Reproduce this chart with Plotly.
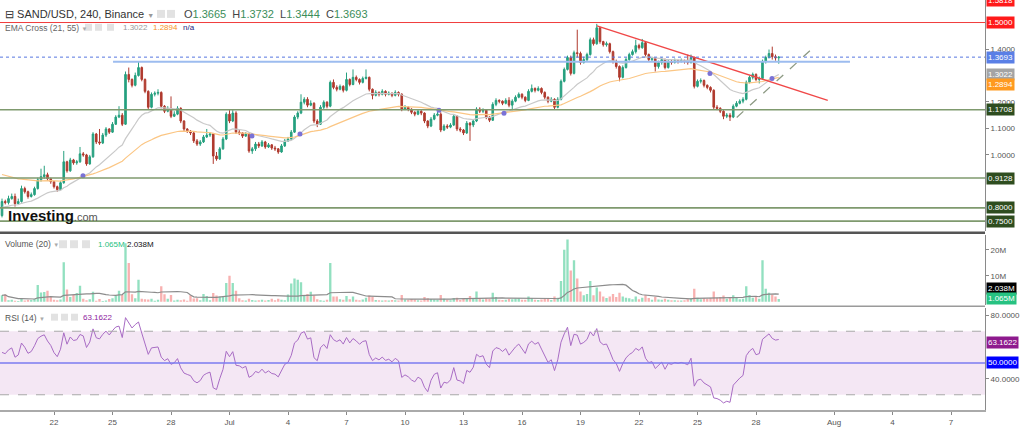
import numpy as np
import pandas as pd
import plotly.graph_objects as go

FONT = "Liberation Sans, Arial, sans-serif"

# ---------------- data ----------------
start_time = "2021-06-19 08:00"
n_candles = 240
first_open = 0.771
close = [
    0.824, 0.820, 0.835, 0.843, 0.816, 0.824, 0.873, 0.861, 0.843, 0.850,
    0.873, 0.906, 0.918, 0.925, 0.910, 0.899, 0.880, 0.869, 0.895, 0.974,
    0.940, 0.981, 0.970, 0.974, 1.004, 1.000, 0.966, 0.993, 1.079, 1.049,
    1.045, 1.075, 1.098, 1.086, 1.116, 1.143, 1.150, 1.116, 1.304, 1.285,
    1.263, 1.300, 1.330, 1.285, 1.240, 1.180, 1.229, 1.233, 1.236, 1.184,
    1.165, 1.176, 1.146, 1.154, 1.176, 1.128, 1.098, 1.090, 1.083, 1.053,
    1.041, 1.049, 1.068, 1.075, 1.079, 0.996, 0.985, 1.023, 1.060, 1.154,
    1.128, 1.158, 1.086, 1.083, 1.071, 1.079, 1.015, 1.023, 1.041, 1.034,
    1.049, 1.030, 1.038, 1.026, 1.023, 1.011, 1.034, 1.053, 1.060, 1.086,
    1.143, 1.158, 1.199, 1.210, 1.188, 1.195, 1.128, 1.116, 1.180, 1.199,
    1.184, 1.274, 1.255, 1.248, 1.259, 1.244, 1.285, 1.266, 1.293, 1.285,
    1.274, 1.289, 1.293, 1.248, 1.225, 1.236, 1.229, 1.240, 1.229, 1.233,
    1.225, 1.236, 1.229, 1.173, 1.180, 1.173, 1.161, 1.154, 1.165, 1.158,
    1.128, 1.109, 1.135, 1.150, 1.154, 1.094, 1.109, 1.105, 1.113, 1.146,
    1.098, 1.094, 1.083, 1.120, 1.113, 1.128, 1.173, 1.165, 1.169, 1.143,
    1.131, 1.191, 1.206, 1.203, 1.195, 1.206, 1.188, 1.203, 1.218, 1.229,
    1.218, 1.206, 1.240, 1.251, 1.244, 1.251, 1.236, 1.218, 1.203, 1.210,
    1.180, 1.210, 1.278, 1.323, 1.368, 1.308, 1.386, 1.383, 1.349, 1.360,
    1.379, 1.435, 1.420, 1.480, 1.428, 1.416, 1.420, 1.390, 1.353, 1.334,
    1.293, 1.330, 1.360, 1.379, 1.390, 1.413, 1.405, 1.424, 1.379, 1.360,
    1.364, 1.334, 1.349, 1.360, 1.330, 1.353, 1.349, 1.356, 1.353, 1.356,
    1.353, 1.349, 1.368, 1.259, 1.278, 1.281, 1.263, 1.255, 1.244, 1.180,
    1.176, 1.165, 1.146, 1.150, 1.143, 1.184, 1.195, 1.203, 1.210, 1.274,
    1.293, 1.304, 1.285, 1.289, 1.353, 1.368, 1.383, 1.371, 1.3665, 1.3693,
]
high = [
    0.835, 0.831, 0.846, 0.854, 0.854, 0.835, 0.884, 0.880, 0.865, 0.858,
    0.880, 0.914, 0.948, 0.959, 0.933, 0.914, 0.902, 0.884, 0.902, 1.015,
    0.978, 0.989, 0.985, 0.981, 1.030, 1.011, 1.004, 1.000, 1.086, 1.083,
    1.098, 1.083, 1.105, 1.101, 1.124, 1.150, 1.184, 1.158, 1.315, 1.330,
    1.289, 1.311, 1.352, 1.334, 1.289, 1.244, 1.236, 1.240, 1.248, 1.240,
    1.188, 1.184, 1.221, 1.165, 1.184, 1.180, 1.131, 1.101, 1.094, 1.086,
    1.060, 1.056, 1.075, 1.098, 1.086, 1.083, 1.011, 1.030, 1.068, 1.161,
    1.169, 1.169, 1.165, 1.094, 1.086, 1.086, 1.083, 1.030, 1.049, 1.049,
    1.056, 1.053, 1.045, 1.041, 1.034, 1.026, 1.041, 1.060, 1.068, 1.094,
    1.150, 1.165, 1.229, 1.218, 1.218, 1.206, 1.199, 1.135, 1.188, 1.206,
    1.203, 1.281, 1.285, 1.263, 1.266, 1.263, 1.311, 1.289, 1.323, 1.300,
    1.289, 1.296, 1.323, 1.296, 1.251, 1.244, 1.240, 1.248, 1.244, 1.240,
    1.236, 1.244, 1.240, 1.233, 1.188, 1.184, 1.176, 1.165, 1.173, 1.169,
    1.161, 1.131, 1.143, 1.158, 1.173, 1.161, 1.116, 1.116, 1.120, 1.154,
    1.150, 1.105, 1.098, 1.128, 1.124, 1.135, 1.180, 1.180, 1.176, 1.173,
    1.146, 1.199, 1.214, 1.210, 1.206, 1.214, 1.218, 1.210, 1.225, 1.236,
    1.233, 1.221, 1.248, 1.266, 1.255, 1.259, 1.255, 1.240, 1.221, 1.218,
    1.214, 1.218, 1.285, 1.330, 1.375, 1.375, 1.394, 1.473, 1.390, 1.371,
    1.386, 1.443, 1.443, 1.495, 1.484, 1.431, 1.428, 1.424, 1.394, 1.360,
    1.338, 1.338, 1.368, 1.386, 1.398, 1.435, 1.420, 1.438, 1.428, 1.383,
    1.371, 1.368, 1.356, 1.368, 1.364, 1.360, 1.360, 1.364, 1.360, 1.364,
    1.360, 1.379, 1.379, 1.371, 1.285, 1.289, 1.285, 1.266, 1.259, 1.248,
    1.188, 1.180, 1.169, 1.158, 1.158, 1.191, 1.203, 1.210, 1.218, 1.281,
    1.300, 1.311, 1.308, 1.296, 1.360, 1.375, 1.398, 1.409, 1.379, 1.3732,
]
low = [
    0.764, 0.813, 0.813, 0.831, 0.805, 0.813, 0.820, 0.854, 0.835, 0.839,
    0.846, 0.869, 0.899, 0.910, 0.902, 0.891, 0.873, 0.861, 0.865, 0.891,
    0.933, 0.936, 0.963, 0.963, 0.970, 0.993, 0.959, 0.963, 0.989, 1.041,
    1.038, 1.041, 1.068, 1.079, 1.083, 1.113, 1.139, 1.109, 1.113, 1.274,
    1.255, 1.259, 1.296, 1.278, 1.233, 1.173, 1.176, 1.221, 1.225, 1.176,
    1.158, 1.161, 1.139, 1.143, 1.150, 1.120, 1.090, 1.083, 1.075, 1.045,
    1.034, 1.034, 1.045, 1.064, 1.068, 0.966, 0.978, 0.981, 1.019, 1.056,
    1.120, 1.124, 1.079, 1.075, 1.064, 1.068, 1.008, 1.004, 1.015, 1.026,
    1.030, 1.023, 1.026, 1.019, 1.015, 1.004, 1.008, 1.030, 1.049, 1.056,
    1.083, 1.135, 1.154, 1.191, 1.180, 1.184, 1.120, 1.105, 1.113, 1.173,
    1.176, 1.180, 1.248, 1.240, 1.244, 1.236, 1.240, 1.259, 1.263, 1.278,
    1.266, 1.270, 1.285, 1.240, 1.210, 1.221, 1.221, 1.225, 1.221, 1.225,
    1.218, 1.221, 1.221, 1.165, 1.169, 1.165, 1.154, 1.146, 1.150, 1.150,
    1.120, 1.101, 1.105, 1.131, 1.146, 1.086, 1.090, 1.098, 1.101, 1.109,
    1.090, 1.086, 1.075, 1.079, 1.053, 1.105, 1.124, 1.158, 1.158, 1.135,
    1.124, 1.128, 1.184, 1.195, 1.188, 1.191, 1.180, 1.169, 1.199, 1.214,
    1.210, 1.199, 1.203, 1.236, 1.236, 1.240, 1.229, 1.210, 1.195, 1.199,
    1.173, 1.176, 1.206, 1.274, 1.319, 1.300, 1.304, 1.368, 1.341, 1.345,
    1.353, 1.375, 1.413, 1.416, 1.420, 1.409, 1.409, 1.383, 1.345, 1.326,
    1.278, 1.289, 1.326, 1.356, 1.375, 1.383, 1.398, 1.401, 1.371, 1.353,
    1.353, 1.315, 1.326, 1.341, 1.323, 1.326, 1.341, 1.345, 1.345, 1.349,
    1.345, 1.341, 1.345, 1.251, 1.255, 1.270, 1.255, 1.248, 1.236, 1.173,
    1.169, 1.158, 1.135, 1.139, 1.128, 1.139, 1.180, 1.191, 1.195, 1.206,
    1.270, 1.285, 1.278, 1.270, 1.285, 1.345, 1.364, 1.360, 1.356, 1.3444,
]
volume_m = [
    2.5, 2.8, 0.6, 0.8, 0.4, 0.3, 1.2, 0.5, 0.8, 0.7,
    1.1, 6.5, 3.6, 3.8, 4.2, 1.8, 0.8, 0.6, 0.9, 15.2,
    4.7, 1.8, 2.6, 3.4, 6.2, 1.2, 0.6, 1.0, 3.9, 0.4,
    1.1, 0.3, 0.5, 1.1, 1.4, 2.4, 4.2, 2.6, 22.5, 14.9,
    2.9, 1.4, 8.5, 1.2, 1.0, 0.9, 1.2, 0.4, 0.8, 6.0,
    2.9, 1.2, 2.6, 0.5, 0.8, 0.6, 0.9, 0.4, 2.5, 1.3,
    1.4, 0.6, 3.0, 2.2, 0.6, 3.4, 2.4, 2.0, 2.0, 7.2,
    10.0, 7.2, 4.2, 1.4, 0.6, 0.5, 1.2, 0.7, 0.5, 0.6,
    0.8, 0.5, 0.7, 1.2, 0.6, 1.2, 0.8, 0.6, 2.8, 7.0,
    9.0, 8.5, 7.5, 2.5, 3.0, 3.9, 2.4, 1.0, 0.6, 0.4,
    0.8, 14.9, 2.0, 2.0, 1.0, 0.8, 2.2, 1.0, 2.0, 0.8,
    0.6, 0.9, 1.6, 2.4, 1.8, 0.7, 0.6, 0.5, 0.6, 0.5,
    0.7, 0.6, 0.5, 2.6, 0.9, 0.8, 1.1, 0.9, 0.6, 0.5,
    1.8, 1.4, 1.1, 0.9, 0.8, 2.6, 1.2, 0.8, 0.6, 1.5,
    1.6, 0.7, 1.3, 1.5, 2.2, 1.3, 4.0, 1.1, 0.9, 1.4,
    1.2, 3.5, 1.8, 0.8, 0.7, 0.8, 1.2, 1.0, 1.3, 1.4,
    0.8, 0.8, 2.0, 1.5, 0.8, 0.7, 0.9, 1.2, 1.4, 0.7,
    2.0, 1.6, 8.0, 20.0, 24.0, 12.0, 16.0, 9.0, 4.0, 2.5,
    3.0, 8.0, 2.5, 5.5, 4.0, 2.0, 1.5, 2.0, 3.0, 1.8,
    3.5, 2.0, 1.6, 1.4, 1.0, 2.0, 1.0, 1.6, 2.5, 1.5,
    0.8, 1.8, 0.9, 0.8, 1.2, 0.8, 0.6, 0.6, 0.5, 0.5,
    0.6, 1.0, 1.4, 5.0, 1.6, 1.0, 1.4, 1.2, 1.5, 4.0,
    1.6, 1.8, 2.4, 1.2, 1.8, 2.5, 1.5, 1.0, 1.2, 6.0,
    2.6, 1.6, 1.8, 1.2, 16.0, 5.0, 3.5, 2.8, 2.0, 1.065,
]

ema_fast_len, ema_slow_len = 21, 55
ema_fast_seed, ema_slow_seed = 0.80, 0.93
rsi_len = 14
rsi_seed_gain, rsi_seed_loss = 0.009, 0.010
vol_ma_len = 20

legend_ohlc = ["1.3665", "1.3732", "1.3444", "1.3693"]
legend_ema = ["1.3022", "1.2894"]
legend_vol = ["1.065M", "2.038M"]
legend_rsi = "63.1622"

level_red = 1.5000
levels_green = [1.1708, 0.9128, 0.8000, 0.7500]
last_price = 1.3693
ema_fast_last, ema_slow_last = 1.3022, 1.2894
blue_level = 1.352
blue_span = ["2021-06-25 00:40", "2021-08-01 19:40"]
red_trend_t = ["2021-07-19 20:15", "2021-07-31 16:20"]
red_trend_p = [1.4876, 1.2064]
grey_trend_t = ["2021-07-27 00:15", "2021-07-30 18:30"]
grey_trend_p = [1.1415, 1.3939]
cross_t = ["2021-06-23 11:40", "2021-07-02 03:40", "2021-07-04 14:45",
           "2021-07-11 17:50", "2021-07-15 01:50", "2021-07-25 15:20",
           "2021-07-28 19:40"]
cross_p = [0.9214, 1.0714, 1.0789, 1.1689, 1.1577, 1.3076, 1.2889]
rsi_levels = [30, 50, 70]
vol_last_ma, vol_last = 2.038, 1.065

price_ticks = [1.0, 1.1, 1.2, 1.4]
vol_ticks = [10e6, 20e6]
vol_tick_text = ["10M", "20M"]
rsi_ticks = [40, 80]

x_range = ["2021-06-19 05:32", "2021-08-08 17:51"]
tick_dates = ["2021-06-22", "2021-06-25", "2021-06-28", "2021-07-01", "2021-07-04",
              "2021-07-07", "2021-07-10", "2021-07-13", "2021-07-16", "2021-07-19",
              "2021-07-22", "2021-07-25", "2021-07-28", "2021-08-01", "2021-08-04",
              "2021-08-07"]
tick_text = ["22", "25", "28", "Jul", "4", "7", "10", "13", "16", "19", "22", "25",
             "28", "Aug", "4", "7"]

# ---------------- derived ----------------
times = pd.date_range(start_time, periods=n_candles, freq="4h")
opens = [first_open] + close[:-1]


def ema(values, span, seed):
    a = 2.0 / (span + 1)
    out, e = [], seed
    for v in values:
        e = e + a * (v - e)
        out.append(e)
    return out


def rsi(values, prev, n, ag, al):
    out = []
    for v in values:
        d = v - prev
        ag = (ag * (n - 1) + max(d, 0)) / n
        al = (al * (n - 1) + max(-d, 0)) / n
        out.append(100 - 100 / (1 + ag / al))
        prev = v
    return out


ema_fast = ema(close, ema_fast_len, ema_fast_seed)
ema_slow = ema(close, ema_slow_len, ema_slow_seed)
rsi_vals = rsi(close, first_open, rsi_len, rsi_seed_gain, rsi_seed_loss)
vol = [v * 1e6 for v in volume_m]
vol_ma = pd.Series(vol).rolling(vol_ma_len, min_periods=1).mean().tolist()
vol_colors = ["rgba(38,194,129,0.5)" if c >= o else "rgba(239,83,80,0.45)"
              for o, c in zip(opens, close)]

# ---------------- geometry helpers (pixels -> paper) ----------------
W_PLOT, H_PLOT = 985, 413


def xp(px):
    return px / W_PLOT


def yp(py):
    return 1 - py / H_PLOT


UP, DOWN = "#26a07f", "#b03a2e"

fig = go.Figure()
fig.add_trace(go.Candlestick(
    x=times, open=opens, high=high, low=low, close=close,
    increasing=dict(line=dict(color=UP, width=1), fillcolor=UP),
    decreasing=dict(line=dict(color=DOWN, width=1), fillcolor=DOWN),
    whiskerwidth=0, xaxis="x", yaxis="y", showlegend=False, hoverinfo="skip"))
fig.add_trace(go.Scatter(x=times, y=ema_fast, mode="lines",
                         line=dict(color="#c9c9c9", width=1.2),
                         xaxis="x", yaxis="y", showlegend=False, hoverinfo="skip"))
fig.add_trace(go.Scatter(x=times, y=ema_slow, mode="lines",
                         line=dict(color="#fbc684", width=1.2),
                         xaxis="x", yaxis="y", showlegend=False, hoverinfo="skip"))
fig.add_trace(go.Scatter(x=red_trend_t, y=red_trend_p, mode="lines",
                         line=dict(color="#f04848", width=1.3),
                         xaxis="x", yaxis="y", showlegend=False, hoverinfo="skip"))
fig.add_trace(go.Scatter(x=grey_trend_t, y=grey_trend_p, mode="lines",
                         line=dict(color="#8d9a84", width=1.3, dash="dash"),
                         xaxis="x", yaxis="y", showlegend=False, hoverinfo="skip"))
fig.add_trace(go.Scatter(x=cross_t, y=cross_p, mode="markers",
                         marker=dict(color="#7a72d6", size=5, symbol="circle"),
                         xaxis="x", yaxis="y", showlegend=False, hoverinfo="skip"))

fig.add_trace(go.Bar(x=times, y=vol, marker=dict(color=vol_colors, line=dict(width=0)),
                     width=4 * 3600 * 1000 * 0.72, xaxis="x2", yaxis="y2",
                     showlegend=False, hoverinfo="skip"))
fig.add_trace(go.Scatter(x=times, y=vol_ma, mode="lines",
                         line=dict(color="#8c8c8c", width=1.2),
                         xaxis="x2", yaxis="y2", showlegend=False, hoverinfo="skip"))

fig.add_trace(go.Scatter(x=times, y=rsi_vals, mode="lines",
                         line=dict(color="#a86cc4", width=1),
                         xaxis="x3", yaxis="y3", showlegend=False, hoverinfo="skip"))

shapes = []
shapes.append(dict(type="line", xref="paper", x0=0, x1=1, yref="y", y0=level_red, y1=level_red,
                   line=dict(color="#f03c3c", width=1)))
for lv in levels_green:
    shapes.append(dict(type="line", xref="paper", x0=0, x1=1, yref="y", y0=lv, y1=lv,
                       line=dict(color="#7f9a6e", width=1.6)))
shapes.append(dict(type="line", xref="x", x0=blue_span[0], x1=blue_span[1], yref="y",
                   y0=blue_level, y1=blue_level, line=dict(color="#9dbcef", width=2)))
shapes.append(dict(type="line", xref="paper", x0=0, x1=1, yref="y", y0=last_price, y1=last_price,
                   line=dict(color="#5677e0", width=1, dash="dot")))
shapes.append(dict(type="rect", xref="paper", x0=0, x1=1, yref="y3", y0=rsi_levels[0],
                   y1=rsi_levels[2], fillcolor="#f4e7f4", line=dict(width=0), layer="below"))
for lv in (rsi_levels[0], rsi_levels[2]):
    shapes.append(dict(type="line", xref="paper", x0=0, x1=1, yref="y3", y0=lv, y1=lv,
                       line=dict(color="#a8a8a8", width=1, dash="dash")))
shapes.append(dict(type="line", xref="paper", x0=0, x1=1, yref="y3", y0=rsi_levels[1],
                   y1=rsi_levels[1], line=dict(color="#7b7bf0", width=1.5)))
shapes.append(dict(type="line", xref="paper", yref="paper", x0=0, x1=1, y0=yp(234.5), y1=yp(234.5),
                   line=dict(color="#555555", width=2.5)))
shapes.append(dict(type="line", xref="paper", yref="paper", x0=0, x1=1, y0=yp(308.5), y1=yp(308.5),
                   line=dict(color="#9a9a9a", width=1.5)))
icon_boxes = [(157, 10, 8), (167, 10, 8),
              (85, 24, 7), (95, 24, 7), (107, 24, 7),
              (59, 242, 8), (70, 242, 8), (82, 242, 8),
              (51, 316, 7), (61, 316, 7), (71, 316, 7)]
for bx, by, s in icon_boxes:
    shapes.append(dict(type="rect", xref="paper", yref="paper", x0=xp(bx), x1=xp(bx + s),
                       y0=yp(by), y1=yp(by + s), fillcolor="#e2e2e2", line=dict(width=0)))

ann = []


def text(px, py, s, size, color, anchor="left"):
    ann.append(dict(x=xp(px), y=yp(py), xref="paper", yref="paper", text=s, showarrow=False,
                    xanchor=anchor, yanchor="middle", borderpad=0,
                    font=dict(size=size, color=color, family=FONT)))


def tag(s, yval, yref, bg, shift=0, fg="white"):
    ann.append(dict(x=1, xref="paper", xanchor="left", xshift=1, y=yval, yref=yref,
                    yshift=shift, text=s, showarrow=False, bgcolor=bg, borderpad=1,
                    font=dict(size=8, color=fg, family=FONT)))


G = "#3b8e5a"
text(4, 14, "⊟ SAND/USD, 240, Binance <span style='font-size:7px;color:#999'>▼</span>", 11, "#333")
text(183, 14, "O<span style='color:%s'>%s</span>  H<span style='color:%s'>%s</span>  "
     "L<span style='color:%s'>%s</span>  C<span style='color:%s'>%s</span>"
     % (G, legend_ohlc[0], G, legend_ohlc[1], G, legend_ohlc[2], G, legend_ohlc[3]), 11, "#444")
text(4, 28, "EMA Cross (21, 55) <span style='font-size:6px;color:#aaa'>▼</span>", 8.5, "#666")
text(122, 28, legend_ema[0], 8, "#9a9a9a")
text(152, 28, legend_ema[1], 8, "#f7931e")
text(182, 28, "n/a", 8, "#1a237e")
text(4, 246, "Volume (20) <span style='font-size:6px;color:#aaa'>▼</span>", 8.5, "#555")
text(97, 246, legend_vol[0], 8, "#26c281")
text(126, 246, legend_vol[1], 8, "#111")
text(4, 320, "RSI (14) <span style='font-size:6px;color:#aaa'>▼</span>", 8.5, "#555")
text(82, 320, legend_rsi, 8, "#8e1a9e")
text(7, 217, "<b>Investing</b><span style='font-size:11px;color:#555'>.com</span>", 15, "#111")

tag("1.5818", 1.5851, "y", "#ff1a1a")
tag("%.4f" % level_red, level_red, "y", "#ff1a1a")
tag("%.4f" % last_price, last_price, "y", "#5a7fe6")
tag("%.4f" % ema_fast_last, ema_fast_last, "y", "#a4a4a4")
tag("%.4f" % ema_slow_last, ema_slow_last, "y", "#ff9a1f", shift=-6)
for lv in levels_green:
    tag("%.4f" % lv, lv, "y", "#2e4d1f")
tag(legend_vol[1], vol_last_ma * 1e6, "y2", "#000000", shift=8)
tag(legend_vol[0], vol_last * 1e6, "y2", "#26c281", shift=1)
tag(legend_rsi, float(legend_rsi), "y3", "#8e1a8e")
tag("%.4f" % rsi_levels[1], rsi_levels[1], "y3", "#0000ff")

axis_common = dict(showgrid=False, zeroline=False)
ytick = dict(side="right", ticks="outside", ticklen=3, tickcolor="#888", showline=True,
             linecolor="#8a8a8a", linewidth=1, tickfont=dict(size=8, color="#555", family=FONT))

fig.update_layout(
    width=1024, height=427,
    margin=dict(l=0, r=39, t=0, b=14),
    paper_bgcolor="white", plot_bgcolor="white",
    showlegend=False, hovermode=False,
    shapes=shapes, annotations=ann,
    xaxis=dict(anchor="y", range=x_range, showticklabels=False, showline=False,
               rangeslider=dict(visible=False), **axis_common),
    xaxis2=dict(anchor="y2", range=x_range, showticklabels=False, showline=False, **axis_common),
    xaxis3=dict(anchor="y3", range=x_range, tickvals=tick_dates, ticktext=tick_text,
                ticks="outside", ticklen=3, tickcolor="#888", showline=True, linecolor="#aaa",
                linewidth=2, tickfont=dict(size=8, color="#555", family=FONT), **axis_common),
    yaxis=dict(anchor="x", domain=[yp(233), 1], range=[0.7115, 1.5851], tickvals=price_ticks,
               tickformat=".4f", **ytick, **axis_common),
    yaxis2=dict(anchor="x2", domain=[yp(307), yp(237)], range=[-1.15e6, 25.6e6],
                tickvals=vol_ticks, ticktext=vol_tick_text, **ytick, **axis_common),
    yaxis3=dict(anchor="x3", domain=[0, yp(310)], range=[20.4, 84.8],
                tickvals=rsi_ticks, tickformat=".4f", **ytick, **axis_common),
)

fig.write_html("out.html")
